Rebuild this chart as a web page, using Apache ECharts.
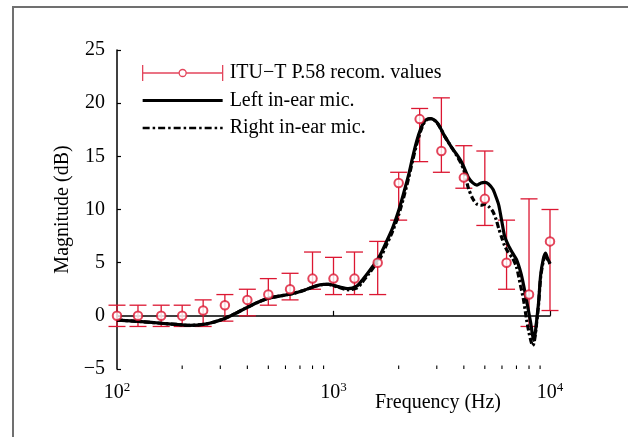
<!DOCTYPE html>
<html>
<head>
<meta charset="utf-8">
<script src="https://cdn.jsdelivr.net/npm/echarts@6/dist/echarts.min.js"></script>
<style>
  html, body { margin: 0; padding: 0; background: #fff; }
  #chart { width: 628px; height: 437px; }
</style>
</head>
<body>
<div id="chart"></div>
<script>
// ITU-T P.58 recommended values (1/3-octave centres) with tolerance limits
const bandFreqs = [100, 125, 160, 200, 250, 315, 400, 500, 630, 800, 1000, 1250, 1600, 2000, 2500, 3150, 4000, 5000, 6300, 8000, 10000];
const bandValues = [0, 0, 0, 0, 0.5, 1, 1.5, 2, 2.5, 3.5, 3.5, 3.5, 5, 12.5, 18.5, 15.5, 13, 11, 5, 2, 7];
const bandLower = [-1, -1, -1, -1, -1, -0.5, 0, 1, 1.5, 2.5, 2, 2, 2, 9, 14.5, 13.5, 12, 8.5, 2.5, -1, 0.5];
const bandUpper = [1, 1, 1, 1, 1.5, 2, 2.5, 3.5, 4, 6, 5.5, 6, 7, 13.5, 19.5, 20.5, 16, 15.5, 9, 11, 10];

// Measured responses of the in-ear microphones
const curveFreqs = [100, 130, 160, 200, 215, 260, 310, 350, 400, 450, 500, 560, 650, 720, 800, 900, 950, 1050, 1170, 1280, 1350, 1450, 1550, 1650, 1750, 1870, 2000, 2100, 2220, 2320, 2420, 2530, 2630, 2720, 2810, 2900, 3000, 3130, 3260, 3400, 3550, 3700, 3870, 4000, 4200, 4400, 4600, 4800, 5000, 5200, 5450, 5650, 5800, 6000, 6170, 6400, 6720, 7000, 7320, 7550, 7800, 8000, 8150, 8300, 8420, 8550, 8680, 8850, 9050, 9300, 9530, 9750, 10000];
const leftMic = [-0.4, -0.55, -0.7, -0.85, -0.9, -0.75, -0.3, 0.2, 0.8, 1.3, 1.65, 1.85, 2.1, 2.35, 2.7, 2.95, 2.95, 2.75, 2.55, 2.8, 3.3, 4.1, 4.9, 5.8, 6.9, 8.2, 9.9, 11.4, 13.2, 14.9, 16.4, 17.6, 18.3, 18.5, 18.55, 18.45, 18.2, 17.6, 16.9, 16.3, 15.7, 15.2, 14.6, 14.0, 13.0, 12.5, 12.3, 12.5, 12.55, 12.4, 11.9, 11.1, 10.4, 8.8, 7.5, 6.7, 5.9, 5.3, 4.1, 2.9, 1.4, 0.2, -0.7, -1.8, -2.3, -1.6, -0.4, 1.2, 3.8, 5.3, 5.9, 5.4, 4.9];
const rightMic = [-0.4, -0.55, -0.7, -0.85, -0.9, -0.75, -0.3, 0.2, 0.8, 1.3, 1.65, 1.85, 2.1, 2.35, 2.7, 2.95, 2.95, 2.7, 2.45, 2.6, 3.1, 3.9, 4.7, 5.5, 6.6, 7.9, 9.5, 11.0, 12.9, 14.6, 16.1, 17.4, 18.2, 18.5, 18.55, 18.45, 18.2, 17.6, 16.9, 16.3, 15.7, 15.1, 14.4, 13.7, 12.0, 11.0, 10.5, 10.4, 10.5, 10.3, 9.8, 9.0, 8.2, 7.3, 6.6, 6.0, 5.4, 4.6, 2.8, 1.5, -0.4, -1.6, -2.3, -2.8, -2.6, -1.8, -0.6, 1.0, 3.6, 5.1, 5.7, 5.3, 4.9];

// Minor tick positions on the logarithmic frequency axis
const minorTickFreqs = [200, 300, 400, 500, 600, 700, 800, 900, 2000, 3000, 4000, 5000, 6000, 7000, 8000, 9000];

const yTicks = { min: -5, max: 25, step: 5 };

const legendNames = ['ITU\u2212T P.58 recom. values', 'Left in-ear mic.', 'Right in-ear mic.'];

const RED = '#dc1732';
const FONT = "'Liberation Serif', 'Times New Roman', serif";

const chart = echarts.init(document.getElementById('chart'), null, { renderer: 'canvas' });

const errorData = bandFreqs.map((f, i) => [f, bandLower[i], bandUpper[i]]);
const pointData = bandFreqs.map((f, i) => [f, bandValues[i]]);
const leftData = curveFreqs.map((f, i) => [f, leftMic[i]]);
const rightData = curveFreqs.map((f, i) => [f, rightMic[i]]);

// Legend icons, drawn in an 80x16 box
const errorIcon = 'path://M0 0 L0 16 M80 0 L80 16 M0 8 L36.5 8 M43.5 8 L80 8 M43.5 8 A3.5 3.5 0 1 1 36.5 8 A3.5 3.5 0 1 1 43.5 8 Z';
const solidIcon = 'path://M0 0 M80 16 M0 6.5 L80 6.5 L80 9.5 L0 9.5 Z';
function dashDotIcon() {
  // dash 7, gap 3, dot 2.5, gap 3 ...
  const pattern = [[7, 3], [2.5, 3]];
  let s = 'path://M0 0 M80 16';
  let x = 0, k = 0;
  while (x < 80) {
    const len = Math.min(pattern[k % 2][0], 80 - x);
    s += ` M${x} 6.8 L${x + len} 6.8 L${x + len} 9.2 L${x} 9.2 Z`;
    x += pattern[k % 2][0] + pattern[k % 2][1];
    k++;
  }
  return s;
}

chart.setOption({
  backgroundColor: '#ffffff',
  animation: false,
  textStyle: { fontFamily: FONT },
  graphic: [{
    type: 'rect',
    shape: { x: 13, y: 7, width: 700, height: 500 },
    style: { fill: 'none', stroke: '#707070', lineWidth: 2 },
    silent: true,
    z: -10
  }],
  grid: { left: 117, right: 78, top: 50, bottom: 68, containLabel: false },
  legend: {
    orient: 'vertical',
    left: 137,
    top: 58,
    itemWidth: 80,
    itemHeight: 16,
    itemGap: 7.5,
    symbolKeepAspect: false,
    selectedMode: false,
    textStyle: { fontFamily: FONT, fontSize: 20, color: '#000', lineHeight: 20, padding: [0, 0, 0, 2] },
    data: [
      { name: legendNames[0], icon: errorIcon, itemStyle: { color: '#ffffff', borderColor: RED, borderWidth: 1.3 } },
      { name: legendNames[1], icon: solidIcon, itemStyle: { color: '#000', borderWidth: 0 } },
      { name: legendNames[2], icon: dashDotIcon(), itemStyle: { color: '#000', borderWidth: 0 } }
    ]
  },
  xAxis: {
    type: 'log',
    logBase: 10,
    min: 100,
    max: 10000,
    name: 'Frequency (Hz)',
    nameLocation: 'middle',
    nameGap: 24,
    nameMoveOverlap: false,
    nameTextStyle: { fontFamily: FONT, fontSize: 20, color: '#000', padding: [0, 0, 0, 209], verticalAlign: 'top' },
    axisLine: { lineStyle: { color: '#000', width: 1.5 } },
    axisTick: { inside: true, length: 5, lineStyle: { color: '#000', width: 1.2 } },
    splitLine: { show: false },
    axisLabel: {
      margin: 12,
      color: '#000',
      formatter: v => '{b|10}{s|' + Math.round(Math.log10(v)) + '}',
      rich: {
        b: { fontFamily: FONT, fontSize: 20, color: '#000', lineHeight: 22, verticalAlign: 'bottom' },
        s: { fontFamily: FONT, fontSize: 13, color: '#000', lineHeight: 22, verticalAlign: 'top', padding: [0, 0, 10, 0] }
      }
    }
  },
  yAxis: {
    type: 'value',
    min: yTicks.min,
    max: yTicks.max,
    interval: yTicks.step,
    name: 'Magnitude (dB)',
    nameLocation: 'middle',
    nameGap: 44,
    nameTextStyle: { fontFamily: FONT, fontSize: 20, color: '#000' },
    axisLine: { show: true, lineStyle: { color: '#000', width: 1.5 } },
    axisTick: { show: true, inside: true, length: 4, lineStyle: { color: '#000', width: 1.2 } },
    splitLine: { show: false },
    axisLabel: {
      margin: 12,
      color: '#000',
      fontFamily: FONT,
      fontSize: 20,
      formatter: v => String(v).replace('-', '\u2212')
    }
  },
  series: [
    {
      // minor ticks of the log axis
      type: 'custom',
      name: 'minorTicks',
      silent: true,
      clip: false,
      data: minorTickFreqs.map(f => [f, yTicks.min]),
      renderItem: (params, api) => {
        const p = api.coord([api.value(0), api.value(1)]);
        return {
          type: 'line',
          shape: { x1: p[0], y1: p[1], x2: p[0], y2: p[1] - 3.5 },
          style: { stroke: '#000', lineWidth: 1.1 }
        };
      },
      z: 1
    },
    {
      // tolerance bars
      type: 'custom',
      name: 'tolerance',
      silent: true,
      data: errorData,
      encode: { x: 0, y: [1, 2] },
      renderItem: (params, api) => {
        const lo = api.coord([api.value(0), api.value(1)]);
        const hi = api.coord([api.value(0), api.value(2)]);
        const w = 8.5;
        const st = { stroke: RED, lineWidth: 1.3 };
        return {
          type: 'group',
          children: [
            { type: 'line', shape: { x1: lo[0], y1: lo[1], x2: hi[0], y2: hi[1] }, style: st },
            { type: 'line', shape: { x1: lo[0] - w, y1: lo[1], x2: lo[0] + w, y2: lo[1] }, style: st },
            { type: 'line', shape: { x1: hi[0] - w, y1: hi[1], x2: hi[0] + w, y2: hi[1] }, style: st }
          ]
        };
      },
      z: 2
    },
    {
      type: 'line',
      name: legendNames[1],
      data: leftData,
      symbol: 'none',
      smooth: 0.25,
      lineStyle: { color: '#000', width: 3.2 },
      itemStyle: { color: '#000' },
      z: 3
    },
    {
      type: 'line',
      name: legendNames[2],
      data: rightData,
      symbol: 'none',
      smooth: 0.25,
      lineStyle: { color: '#000', width: 3.2, type: [6, 2.5, 2.5, 2.5] },
      itemStyle: { color: '#000' },
      z: 4
    },
    {
      type: 'scatter',
      name: legendNames[0],
      data: pointData,
      symbol: 'emptyCircle',
      symbolSize: 8.5,
      itemStyle: { color: RED, borderColor: RED, borderWidth: 1.3 },
      z: 5
    }
  ]
});
</script>
</body>
</html>
